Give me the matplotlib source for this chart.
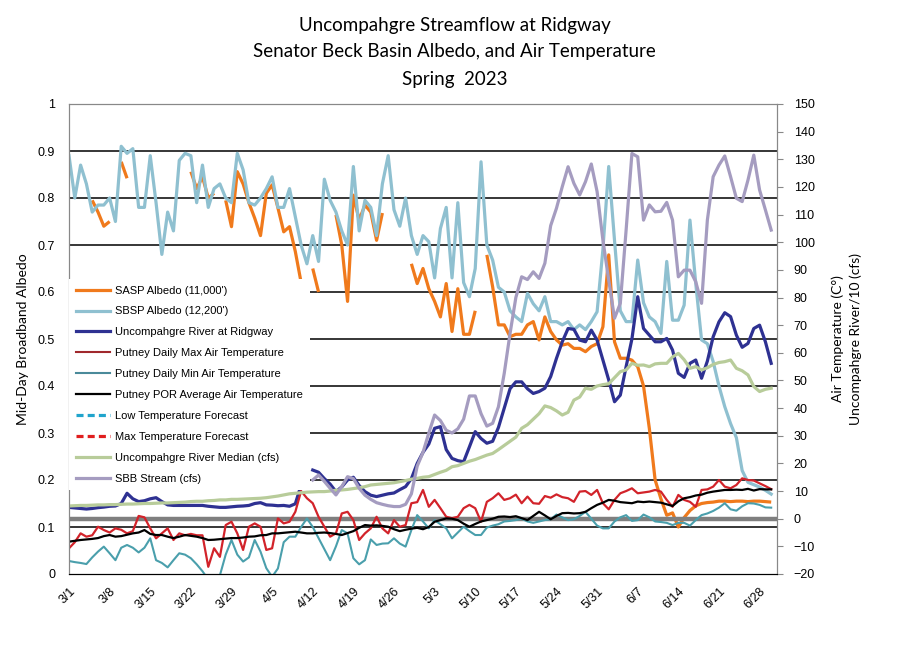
import numpy as np
import pandas as pd
import matplotlib
matplotlib.use('Agg')
import matplotlib.pyplot as plt

plt.rcParams['font.family'] = ['Liberation Sans', 'DejaVu Sans']
nan = np.nan

# --- data (daily, 3/1 - 6/30 2023) ---
dates = pd.date_range('2023-03-01', '2023-06-30', freq='D')

sasp_albedo = [
    nan, nan, nan, nan, 0.795, 0.77, 0.74, 0.75, nan, 0.877,
    0.842, nan, nan, nan, nan, nan, nan, nan, nan, nan,
    nan, 0.856, 0.82, 0.845, 0.80, 0.81, nan, 0.795, 0.739, 0.856,
    0.83, 0.79, 0.757, 0.72, 0.81, 0.828, 0.779, 0.728, 0.739, 0.686,
    0.62, nan, 0.65, 0.60, nan, nan, 0.764, 0.70, 0.58, 0.806,
    0.753, 0.785, 0.77, 0.71, 0.768, nan, nan, nan, nan, 0.66,
    0.618, 0.65, 0.607, 0.58, 0.547, 0.618, 0.516, 0.607, 0.51, 0.51,
    0.56, nan, 0.679, 0.611, 0.53, 0.53, 0.505, 0.51, 0.51, 0.53,
    0.537, 0.498, 0.547, 0.516, 0.498, 0.487, 0.49, 0.48, 0.48, 0.473,
    0.484, 0.49, 0.526, 0.679, 0.494, 0.459, 0.459, 0.455, 0.441, 0.40,
    0.31, 0.20, 0.16, 0.125, 0.13, 0.10, 0.12, 0.135, 0.145, 0.15,
    0.152, 0.153, 0.155, 0.155, 0.154, 0.155, 0.155, 0.154, 0.155, 0.155,
    0.154, 0.153]

sbsp_albedo = [
    0.89, 0.80, 0.87, 0.83, 0.77, 0.785, 0.785, 0.80, 0.75, 0.91,
    0.895, 0.905, 0.78, 0.78, 0.89, 0.79, 0.68, 0.77, 0.73, 0.88,
    0.895, 0.89, 0.79, 0.87, 0.78, 0.82, 0.83, 0.80, 0.79, 0.895,
    0.86, 0.79, 0.785, 0.80, 0.82, 0.845, 0.78, 0.78, 0.82, 0.76,
    0.70, 0.66, 0.72, 0.665, 0.84, 0.795, 0.77, 0.73, 0.70, 0.867,
    0.73, 0.795, 0.78, 0.72, 0.83, 0.89, 0.775, 0.74, 0.80, 0.72,
    0.68, 0.72, 0.707, 0.63, 0.735, 0.78, 0.63, 0.79, 0.62, 0.59,
    0.65, 0.877, 0.70, 0.668, 0.61, 0.60, 0.56, 0.547, 0.537, 0.597,
    0.575, 0.56, 0.59, 0.537, 0.537, 0.53, 0.537, 0.52, 0.53, 0.52,
    0.537, 0.558, 0.69, 0.867, 0.71, 0.56, 0.537, 0.537, 0.668, 0.577,
    0.547, 0.537, 0.512, 0.665, 0.54, 0.54, 0.572, 0.753, 0.618, 0.498,
    0.49, 0.452, 0.40, 0.356, 0.32, 0.29, 0.22, 0.195, 0.19, 0.185,
    0.178, 0.17]

river_ridgway = [
    4.1, 3.9, 3.7, 3.5, 3.7, 4.0, 4.2, 4.5, 4.6, 5.5,
    9.2, 7.2, 6.2, 6.5, 7.2, 7.6, 6.2, 5.0, 4.8, 4.8,
    4.8, 4.8, 4.8, 4.8, 4.5, 4.3, 4.1, 4.1, 4.3, 4.5,
    4.6, 4.8, 5.5, 5.8, 5.0, 4.9, 4.7, 4.8, 4.5, 5.4,
    12.2, nan, 17.6, 16.8, 14.5, 12.5, 9.8, 11.5, 14.0, 15.0,
    12.0, 9.8, 8.5, 8.0, 8.5, 9.0, 9.3, 10.5, 11.6, 14.5,
    20.0, 24.0, 27.0, 32.7, 33.3, 25.0, 21.8, 21.0, 20.6, 26.0,
    31.5, 29.0, 27.3, 28.0, 33.0, 40.0, 47.0, 49.5, 49.5, 47.0,
    45.3, 46.0, 47.2, 51.4, 58.0, 64.0, 68.8, 68.5, 64.6, 64.0,
    68.2, 64.6, 57.4, 50.2, 42.3, 44.7, 55.0, 65.0, 80.3, 68.8,
    66.4, 64.0, 64.0, 65.2, 61.0, 52.6, 51.1, 56.2, 57.4, 50.8,
    57.0, 65.8, 71.2, 74.5, 73.1, 66.4, 62.0, 63.4, 68.8, 70.0,
    64.0, 56.2]

max_temp = [
    -10.7, -8.5, -5.3, -6.5, -6.0, -2.9, -4.1, -5.0, -3.5, -4.0,
    -5.3, -4.5, 1.0, 0.5, -3.5, -7.1, -5.3, -3.5, -7.7, -5.3,
    -6.0, -5.5, -6.0, -6.0, -17.4, -10.7, -13.8, -2.3, -1.1, -5.3,
    -11.3, -2.9, -1.7, -2.9, -11.3, -10.7, 0.1, -1.7, -1.1, 2.5,
    10.0, 7.4, 5.6, 0.7, -2.9, -6.5, -5.3, 1.9, 2.5, -0.5,
    -7.7, -5.3, -3.5, 0.7, -3.5, -5.3, -0.5, -2.9, -2.3, 5.6,
    6.0, 10.4, 4.3, 6.8, 3.8, 0.7, 0.2, 0.7, 3.8, 5.0,
    3.8, -1.1, 6.1, 7.4, 9.2, 6.8, 7.4, 8.7, 5.6, 8.0,
    5.6, 5.4, 8.2, 7.6, 8.8, 7.8, 7.4, 6.1, 9.8, 10.0,
    8.6, 10.4, 5.6, 3.4, 6.8, 9.2, 10.0, 11.0, 9.2, 9.5,
    9.8, 10.4, 9.8, 6.8, 4.3, 8.6, 6.8, 6.1, 4.3, 10.4,
    10.6, 11.6, 14.0, 11.6, 11.0, 12.2, 14.6, 14.0, 13.8, 12.8,
    11.8, 10.7]

min_temp = [
    -15.3, -15.7, -16.0, -16.4, -14.0, -11.9, -10.1, -12.5, -15.0, -10.5,
    -9.5, -10.5, -12.2, -10.5, -7.1, -15.0, -16.0, -17.6, -15.0, -12.5,
    -13.0, -14.3, -16.5, -19.0, -22.0, -23.0, -20.5, -13.0, -7.7, -13.0,
    -15.5, -14.0, -7.7, -11.9, -17.9, -21.0, -18.0, -8.5, -6.5, -6.5,
    -3.0, 0.1, -3.0, -7.0, -11.0, -15.0, -10.0, -4.1, -5.3, -14.3,
    -16.5, -15.0, -7.5, -9.5, -9.0, -8.9, -7.1, -9.0, -10.1, -4.1,
    1.3, -1.0, -3.5, -0.5, -2.0, -3.5, -7.1, -5.0, -2.9, -4.5,
    -5.9, -5.9, -3.2, -2.5, -2.0, -1.0, -0.8, -0.5, 0.0, -1.0,
    -1.5, -1.0, -0.5, -0.2, 1.5, 0.5, -0.5, -0.2, 1.0, 2.5,
    0.0, -2.5, -3.5, -3.5, -1.0, 0.5, 1.3, -0.8, -0.5, 1.5,
    0.5, -1.0, -1.2, -1.5, -2.3, -1.5, -1.5, -2.5, -0.5, 1.3,
    1.9, 2.8, 4.0, 5.6, 3.4, 2.9, 4.5, 5.6, 5.5, 5.0,
    4.1, 4.0]

por_avg_temp = [
    -8.3, -8.0, -7.7, -7.5, -7.3, -7.0, -6.3, -5.9, -6.5, -6.3,
    -5.8, -5.3, -5.0, -4.1, -5.5, -5.9, -5.9, -6.5, -7.0, -6.5,
    -5.9, -6.2, -6.5, -7.0, -7.7, -7.6, -7.4, -7.2, -7.0, -7.0,
    -6.8, -6.5, -6.4, -6.0, -5.9, -5.3, -5.3, -5.1, -4.9, -4.7,
    -5.0, -5.3, -5.3, -5.1, -5.0, -5.2, -5.5, -5.9, -5.2, -4.5,
    -3.3, -2.3, -2.5, -2.4, -2.6, -2.9, -3.8, -4.5, -4.0, -3.6,
    -3.3, -3.8, -3.0, -1.1, -0.5, 0.1, 0.0, -0.5, -1.8, -2.9,
    -1.9, -1.0, -0.5, 0.0, 0.7, 0.8, 0.6, 0.9, 0.2, -0.5,
    1.0, 2.5, 1.2, -0.2, 1.0, 2.0, 2.1, 1.9, 2.0, 2.5,
    3.8, 5.0, 5.8, 6.8, 6.5, 6.0, 5.8, 5.6, 6.2, 6.0,
    6.2, 6.0, 5.8, 5.2, 4.6, 6.3, 7.4, 7.8, 8.4, 8.7,
    9.4, 9.8, 10.1, 10.4, 10.4, 10.5, 10.4, 10.8, 10.2, 10.7,
    10.6, 10.6]

river_median = [
    4.6, 4.7, 4.8, 4.8, 4.9, 5.0, 5.0, 5.1, 5.1, 5.2,
    5.3, 5.3, 5.4, 5.5, 5.5, 5.6, 5.7, 5.7, 5.8, 5.9,
    6.0, 6.2, 6.3, 6.3, 6.5, 6.6, 6.8, 6.8, 7.0, 7.0,
    7.1, 7.2, 7.3, 7.4, 7.6, 7.9, 8.2, 8.6, 9.0, 9.2,
    9.4, 9.6, 9.7, 9.8, 9.8, 10.0, 10.3, 10.4, 10.6, 10.9,
    11.2, 11.6, 12.2, 12.4, 12.6, 12.8, 13.0, 13.4, 13.8, 14.3,
    14.6, 15.0, 15.2, 16.0, 16.8, 17.5, 18.8, 19.2, 20.0, 20.8,
    21.4, 22.2, 23.0, 23.6, 25.0, 26.5, 28.0, 29.5, 32.7, 34.0,
    36.0, 38.0, 40.8, 40.2, 39.0, 37.5, 38.5, 42.9, 44.0, 47.2,
    46.8, 48.0, 48.5, 48.8, 51.0, 53.2, 53.8, 56.2, 55.5, 55.6,
    55.0, 56.0, 56.2, 56.2, 58.5, 59.8, 57.5, 54.4, 55.0, 53.8,
    54.6, 55.8, 56.5, 56.8, 57.4, 54.4, 53.5, 52.0, 47.8, 46.0,
    46.8, 47.2]

sbb_stream = [nan] * 42 + [
    14.0, 15.8, 13.5, 11.0, 8.6, 11.6, 15.2, 14.5,
    11.0, 8.5, 7.0, 5.8, 5.2, 4.7, 4.4, 4.4, 5.2, 9.0,
    19.0, 24.0, 31.0, 37.5, 35.5, 32.0, 31.0, 32.5, 36.0, 44.4,
    44.4, 38.0, 33.5, 34.5, 40.5, 52.6, 67.0, 80.0, 87.5, 86.5,
    89.3, 86.9, 92.4, 106.0, 112.3, 120.1, 127.3, 121.3, 117.1, 121.9,
    128.3, 118.3, 100.8, 86.3, 72.5, 77.9, 104.4, 132.1, 130.9, 108.0,
    113.5, 111.0, 111.2, 114.4, 108.0, 87.5, 89.9, 89.9, 85.7, 77.9,
    108.0, 123.7, 127.9, 131.2, 123.7, 115.9, 114.7, 122.5, 131.5, 118.9,
    111.7, 104.4]

albedo_ticks = [0, 0.1, 0.2, 0.3, 0.4, 0.5, 0.6, 0.7, 0.8, 0.9, 1.0]
albedo_labels = ['0', '0.1', '0.2', '0.3', '0.4', '0.5', '0.6', '0.7', '0.8', '0.9', '1']
right_ticks = list(range(-20, 151, 10))

# --- figure ---
fig = plt.figure(figsize=(9.09, 6.60), dpi=100)
ax = fig.add_axes([69 / 909, 1 - 574 / 660, 708 / 909, 470 / 660])
ax2 = ax.twinx()

for lvl in albedo_ticks[1:-1]:
    ax.axhline(lvl, color='black', lw=1.1, zorder=0)

ax.plot(dates, sasp_albedo, color='#f07a1c', lw=2.3, solid_capstyle='butt')
ax.plot(dates, sbsp_albedo, color='#8fc0d0', lw=2.3)

ax2.axhline(0, color='#7f7f7f', lw=3.2, zorder=1)
ax2.plot(dates, river_ridgway, color='#2e3192', lw=2.3)
ax2.plot(dates, max_temp, color='#d2232a', lw=1.6)
ax2.plot(dates, min_temp, color='#4a9fac', lw=1.5)
ax2.plot(dates, por_avg_temp, color='black', lw=1.6)
ax2.plot(dates, river_median, color='#b8cc9a', lw=2.3)
ax2.plot(dates, sbb_stream, color='#a59cc0', lw=2.3)

# legend (forecast series carry no data in this period)
h = [
    plt.Line2D([], [], color='#f07a1c', lw=2.3),
    plt.Line2D([], [], color='#8fc0d0', lw=2.3),
    plt.Line2D([], [], color='#2e3192', lw=2.3),
    plt.Line2D([], [], color='#a0282c', lw=1.5),
    plt.Line2D([], [], color='#4a8a9a', lw=1.5),
    plt.Line2D([], [], color='black', lw=1.6),
    plt.Line2D([], [], color='#20a4cc', lw=2.3, ls=(0, (2.2, 1.3))),
    plt.Line2D([], [], color='#e01e1e', lw=2.3, ls=(0, (2.2, 1.3))),
    plt.Line2D([], [], color='#b8cc9a', lw=2.3),
    plt.Line2D([], [], color='#a59cc0', lw=2.3),
]
labels = ["SASP Albedo (11,000')", "SBSP Albedo (12,200')", 'Uncompahgre River at Ridgway',
          'Putney Daily Max Air Temperature', 'Putney Daily Min Air Temperature',
          'Putney POR Average Air Temperature', 'Low Temperature Forecast',
          'Max Temperature Forecast', 'Uncompahgre River Median (cfs)', 'SBB Stream (cfs)']
leg = ax2.legend(h, labels, loc='upper left', bbox_to_anchor=(0.0, 0.628),
                 fontsize=8, handlelength=3.1, handletextpad=0.45, labelspacing=0.98,
                 borderaxespad=0, borderpad=0.6, frameon=True, fancybox=False,
                 facecolor='white', edgecolor='none', framealpha=1)

# axes formatting
ax.set_ylim(0, 1)
ax2.set_ylim(-20, 150)
ax.set_xlim(dates[0], dates[-1] + pd.Timedelta(days=1))
ax.set_yticks(albedo_ticks)
ax.set_yticklabels(albedo_labels)
ax2.set_yticks(right_ticks)
ax.set_xticks(dates[::7])
ax.set_xticklabels([f'{d.month}/{d.day}' for d in dates[::7]], rotation=45,
                   ha='right', rotation_mode='anchor')

ax.tick_params(axis='y', length=0, pad=10, labelsize=9)
ax.tick_params(axis='x', length=0, pad=8, labelsize=9)
ax2.tick_params(axis='y', length=4, color='#888888', pad=8, labelsize=9)

for s in ['top', 'right', 'left']:
    ax.spines[s].set_color('#888888')
    ax2.spines[s].set_color('#888888')
ax.spines['bottom'].set_color('black')
ax2.spines['bottom'].set_color('black')

ax.set_ylabel('Mid-Day Broadband Albedo', family='Lato', fontsize=10, labelpad=6)
ax2.set_ylabel('Air Temperature (C°)\nUncompahgre River/10 (cfs)', family='Lato',
               fontsize=10, labelpad=12, linespacing=1.5)

fig.text(0.5, 1 - 25 / 660, 'Uncompahgre Streamflow at Ridgway', ha='center', va='center',
         family='Lato', fontsize=13.5)
fig.text(0.5, 1 - 52 / 660, 'Senator Beck Basin Albedo, and Air Temperature', ha='center',
         va='center', family='Lato', fontsize=13.5)
fig.text(0.5, 1 - 79 / 660, 'Spring  2023', ha='center', va='center',
         family='Lato', fontsize=13.5)

fig.savefig('out.png', dpi=100)
